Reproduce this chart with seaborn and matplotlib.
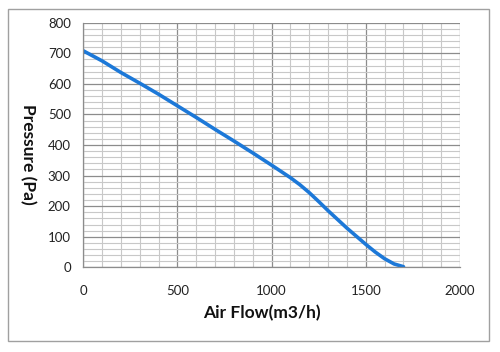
import matplotlib
matplotlib.use("Agg")
import matplotlib.pyplot as plt
import seaborn as sns
import pandas as pd
from matplotlib.patches import Rectangle
from matplotlib.ticker import MultipleLocator

airflow = [0, 100, 200, 300, 400, 500, 600, 700, 800, 900, 1000, 1100, 1150, 1200, 1250, 1300, 1400, 1500, 1550, 1600, 1650, 1700]
pressure = [708, 675, 637, 602, 566, 528, 490, 451, 413, 374, 334, 293, 270, 244, 215, 185, 128, 75, 50, 28, 11, 2]
x_ticks = [0, 500, 1000, 1500, 2000]
y_ticks = [0, 100, 200, 300, 400, 500, 600, 700, 800]
x_label = "Air Flow(m3/h)"
y_label = "Pressure (Pa)"

df = pd.DataFrame({"flow": airflow, "pressure": pressure})

sns.set_style("white")
plt.rcParams["font.family"] = ["Lato", "DejaVu Sans"]

fig = plt.figure(figsize=(5.0, 3.52), dpi=100)
ax = fig.add_axes([0.1666, 0.2406, 0.7534, 0.6949])

sns.lineplot(data=df, x="flow", y="pressure", ax=ax, color="#1C78D8", linewidth=2.6)

ax.set_xlim(0, 2000)
ax.set_ylim(0, 800)
ax.set_xticks(x_ticks)
ax.set_yticks(y_ticks)
ax.xaxis.set_minor_locator(MultipleLocator(100))
ax.yaxis.set_minor_locator(MultipleLocator(20))
ax.grid(which="minor", color="#c8c8c8", linewidth=0.8)
ax.grid(which="major", color="#8c8c8c", linewidth=0.9)
ax.set_axisbelow(True)

for s in ["top", "right"]:
    ax.spines[s].set_visible(False)
for s in ["left", "bottom"]:
    ax.spines[s].set_color("#8c8c8c")
    ax.spines[s].set_linewidth(0.9)

ax.tick_params(axis="both", which="major", direction="out", length=4, width=0.9,
               color="#8c8c8c", labelsize=9.5, labelcolor="#222222")
ax.tick_params(axis="both", which="minor", length=0)
ax.tick_params(axis="x", pad=9)
ax.tick_params(axis="y", pad=5)

ax.set_xlabel(x_label, fontsize=12.5, fontweight="bold", color="#111111", va="center")
ax.set_ylabel(y_label, fontsize=12.5, fontweight="bold", color="#111111", rotation=-90, va="center")
ax.xaxis.set_label_coords(0.473, -0.187)
ax.yaxis.set_label_coords(-0.147, 0.461)

fig.patches.append(Rectangle((7.5 / 500, 1 - 340.5 / 352), (489 - 7.5) / 500, (340.5 - 8.5) / 352,
                             transform=fig.transFigure, fill=False, edgecolor="#a0a0a0", linewidth=1.0))

fig.savefig("out.png", dpi=100, facecolor="white")
